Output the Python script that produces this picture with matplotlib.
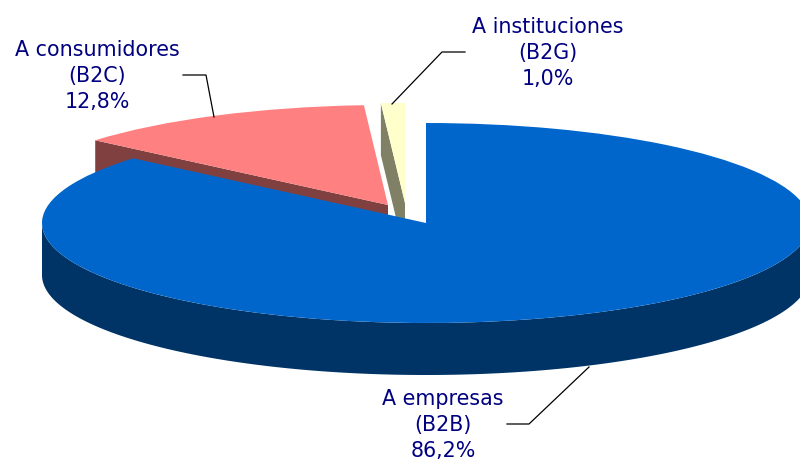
import numpy as np
import matplotlib
matplotlib.use("Agg")
import matplotlib.pyplot as plt

# share of each segment, in percent
labels = ["A empresas\n(B2B)\n86,2%", "A consumidores\n(B2C)\n12,8%", "A instituciones\n(B2G)\n1,0%"]
shares = [86.2, 12.8, 1.0]

top_colors = ["#0066CC", "#FF8080", "#FFFFCC"]
side_colors = ["#003366", "#804040", "#808066"]
text_color = "#000080"

# pixel layout of the reference
W, H = 800, 463
cx, cy = 426, 223  # centre of the big slice
rx, ry = 384, 100  # ellipse radii
depth = 52 / ry
centers = [(0.0, 0.0), (-38 / rx, 18 / ry), (-21 / rx, 20 / ry)]


def px(x, y):
    # picture pixels to data units (1 unit = pie radius)
    return (x - cx) / rx, (cy - y) / ry


def corner(center, theta):
    t = np.radians(theta)
    return center[0] + np.cos(t), center[1] + np.sin(t)


def cut_face(center, theta, color, z):
    # side wall of a cut edge, from the rim to the apex and down by depth
    x, y = corner(center, theta)
    ax.fill(
        [x, center[0], center[0], x],
        [y, center[1], center[1] - depth, y - depth],
        color=color, lw=0, zorder=z,
    )


fig = plt.figure(figsize=(W / 100, H / 100), dpi=100)
ax = fig.add_axes([0, 0, 1, 1])

wedges, _ = ax.pie(shares, colors=top_colors, startangle=90, counterclock=False,
                   wedgeprops={"linewidth": 0})
ax.set_aspect("auto")
ax.set_xlim(px(0, 0)[0], px(W, 0)[0])
ax.set_ylim(px(0, H)[1], px(0, 0)[1])
ax.axis("off")

for w, c, z in zip(wedges, centers, [3, 4, 4]):
    w.set_center(c)
    w.set_zorder(z)

# side walls
red, yellow = wedges[1], wedges[2]
cut_face(centers[1], red.theta2, side_colors[1], 1)
cut_face(centers[2], yellow.theta2, side_colors[2], 1)

t = np.radians(np.linspace(180, 360, 200))
ax.fill(
    np.r_[np.cos(t), np.cos(t[::-1])],
    np.r_[np.sin(t), np.sin(t[::-1]) - depth],
    color=side_colors[0], lw=0, zorder=2,
)

# leader lines
leaders = [
    [(507, 424), (529, 424), (589, 367)],
    [(183, 75), (206, 75), (214, 117)],
    [(392, 104), (442, 52), (465, 52)],
]
for pts in leaders:
    xs, ys = zip(*[px(*p) for p in pts])
    ax.plot(xs, ys, color="black", lw=0.9, zorder=5)

label_pos = [(443, 425), (97, 76), (548, 53)]
for text, (x, y) in zip(labels, label_pos):
    ax.text(*px(x, y), text, color=text_color, ha="center", va="center",
            fontsize=14.9, linespacing=1.38, family="DejaVu Sans", zorder=6)

fig.savefig("out.png", dpi=100)
